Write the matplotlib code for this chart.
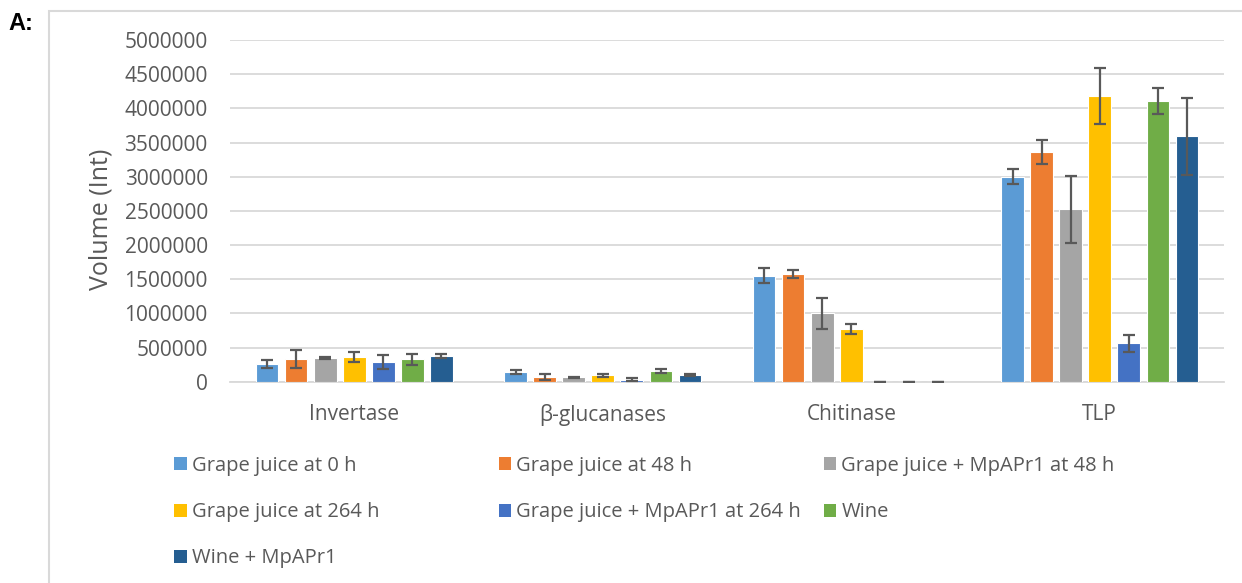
import numpy as np
import matplotlib.pyplot as plt
from matplotlib.patches import Patch, Rectangle

plt.rcParams['font.family'] = ['Open Sans', 'DejaVu Sans']

# enzyme classes on the x axis
categories = ["Invertase", "\u03b2-glucanases", "Chitinase", "TLP"]

# one list per sample: values for Invertase, beta-glucanases, Chitinase, TLP
series_names = ["Grape juice at 0 h", "Grape juice at 48 h",
                "Grape juice + MpAPr1 at 48 h", "Grape juice at 264 h",
                "Grape juice + MpAPr1 at 264 h", "Wine", "Wine + MpAPr1"]

gj_0h = [259000, 142000, 1550000, 3000000]
gj_48h = [336000, 69000, 1574000, 3360000]
gj_mp_48h = [346000, 64000, 1000000, 2520000]
gj_264h = [365000, 93000, 770000, 4180000]
gj_mp_264h = [288000, 29000, 0, 561000]
wine = [327000, 156000, 0, 4114000]
wine_mp = [380000, 98000, 0, 3588000]

# standard deviations, same order
gj_0h_err = [57000, 30000, 108000, 110000]
gj_48h_err = [130000, 50000, 54000, 175000]
gj_mp_48h_err = [12000, 10000, 225000, 490000]
gj_264h_err = [75000, 25000, 78000, 414000]
gj_mp_264h_err = [105000, 20000, 0, 122000]
wine_err = [78000, 30000, 0, 190000]
wine_mp_err = [30000, 18000, 0, 570000]

values = [gj_0h, gj_48h, gj_mp_48h, gj_264h, gj_mp_264h, wine, wine_mp]
errors = [gj_0h_err, gj_48h_err, gj_mp_48h_err, gj_264h_err,
          gj_mp_264h_err, wine_err, wine_mp_err]
colors = ['#5B9BD5', '#ED7D31', '#A5A5A5', '#FFC000',
          '#4472C4', '#70AD47', '#255E91']

text_col = '#595959'
grid_col = '#D9D9D9'

fig = plt.figure(figsize=(12.42, 5.83), dpi=100)
ax = fig.add_axes([0.1852, 0.3453, 0.8003, 0.5861])

x = np.arange(len(categories))
pitch = 0.117
width = 0.0915
for i, (vals, errs, c) in enumerate(zip(values, errors, colors)):
    pos = x + (i - 3) * pitch
    ax.bar(pos, vals, width, color=c, edgecolor='white', linewidth=0.8,
           zorder=3, label=series_names[i])
    ax.errorbar(pos, vals, yerr=errs, fmt='none', ecolor=text_col,
                elinewidth=1.6, capsize=4.3, capthick=1.6, zorder=4)

ax.set_xlim(-0.5, 3.5)
ax.set_ylim(0, 5000000)
ax.set_yticks(np.arange(0, 5000001, 500000))
ax.set_yticklabels([str(v) for v in range(0, 5000001, 500000)])
ax.set_xticks(x)
ax.set_xticklabels(categories)
ax.tick_params(axis='both', length=0, labelsize=15, colors=text_col)
ax.tick_params(axis='y', pad=16)
ax.tick_params(axis='x', pad=16)
ax.yaxis.grid(True, color=grid_col, linewidth=1.3, zorder=0)
for s in ['top', 'right', 'left']:
    ax.spines[s].set_visible(False)
ax.spines['bottom'].set_color(grid_col)
ax.spines['bottom'].set_linewidth(1.3)
ax.set_ylabel("Volume (Int)", fontsize=18, color=text_col)
ax.yaxis.set_label_coords(-0.1177, 0.476)

# legend laid out in three equal columns, filled row by row
col_x = [0.1404, 0.4014, 0.6634]
columns = [[0, 3, 6], [1, 4], [2, 5]]
for cx, idxs in zip(col_x, columns):
    handles = [Patch(facecolor=colors[k], edgecolor='none') for k in idxs]
    fig.legend(handles, [series_names[k] for k in idxs],
               loc='upper left', bbox_to_anchor=(cx, 0.2178),
               frameon=False, fontsize=14.5, labelcolor=text_col,
               handlelength=0.62, handleheight=0.62, handletextpad=0.25,
               labelspacing=1.3, borderaxespad=0, borderpad=0)

# panel frame and label
fig.patches.append(Rectangle((49 / 1242, -0.05), 1.0, 1 - 11 / 583 + 0.05,
                             transform=fig.transFigure, fill=False,
                             edgecolor='#D9D9D9', linewidth=1.5))
fig.text(8 / 1242, 1 - 24 / 583, "A:", fontsize=17, fontweight='bold',
         family='Liberation Sans', va='center', ha='left', color='black')

fig.savefig("out.png", dpi=100)
